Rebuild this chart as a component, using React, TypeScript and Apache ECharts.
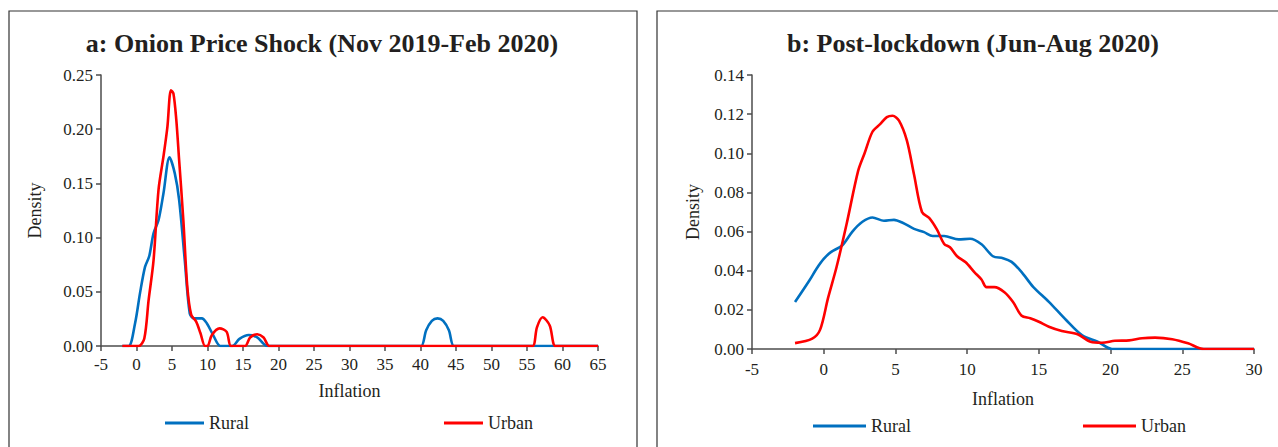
import React, { useEffect, useRef } from "react";
import * as echarts from "echarts";

// ---- Data ----
const titleA = "a: Onion Price Shock (Nov 2019-Feb 2020)";
const titleB = "b: Post-lockdown (Jun-Aug 2020)";
const seriesNames = ["Rural", "Urban"];
const xAxisA = { min: -5, max: 65, interval: 5 };
const yAxisA = { min: 0, max: 0.25, interval: 0.05 };
const xAxisB = { min: -5, max: 30, interval: 5 };
const yAxisB = { min: 0, max: 0.14, interval: 0.02 };

const ruralA: [number, number][] = [
  [-2, 0], [-1.1, 0], [-0.2, 0.021], [0.5, 0.049], [1.2, 0.073], [1.8, 0.083],
  [2.4, 0.104], [3.1, 0.116], [3.8, 0.141], [4.65, 0.174], [5.4, 0.159],
  [6.0, 0.135], [6.8, 0.079], [7.5, 0.03], [8.1, 0.0255], [9.2, 0.0255],
  [9.9, 0.021], [10.8, 0.01], [11.8, 0], [12.5, 0], [13.5, 0], [14.5, 0.0065],
  [15.8, 0.0101], [17.0, 0.008], [18.4, 0], [19.5, 0], [39, 0], [40.1, 0],
  [40.8, 0.0145], [41.6, 0.0232], [42.4, 0.0255], [43.2, 0.0232], [44.0, 0.0145],
  [44.7, 0], [46, 0], [65, 0],
];

const urbanA: [number, number][] = [
  [-2, 0], [-1, 0], [0.3, 0], [1.1, 0.007], [1.7, 0.042], [2.4, 0.079],
  [3.1, 0.144], [3.8, 0.175], [4.35, 0.202], [4.85, 0.236], [5.2, 0.233],
  [5.6, 0.209], [6.0, 0.172], [6.6, 0.116], [7.15, 0.055], [7.7, 0.029],
  [8.4, 0.0225], [9.0, 0.012], [9.65, 0], [10.0, 0], [10.6, 0.01],
  [11.7, 0.0163], [12.7, 0.013], [13.3, 0], [14.3, 0], [15.3, 0], [16.0, 0.0078],
  [17.0, 0.0108], [17.9, 0.0078], [18.7, 0], [20, 0], [54.5, 0], [55.8, 0],
  [56.4, 0.0172], [57.2, 0.0265], [58.2, 0.019], [59.0, 0], [60.5, 0], [65, 0],
];

const ruralB: [number, number][] = [
  [-2, 0.024], [-1, 0.035], [-0.5, 0.041], [0, 0.046], [0.5, 0.0495],
  [1.3, 0.053], [2, 0.06], [2.7, 0.065], [3.4, 0.0672], [4.2, 0.0655],
  [4.9, 0.066], [5.5, 0.0645], [6.3, 0.0614], [7, 0.0597], [7.6, 0.0577],
  [8.4, 0.0577], [9.4, 0.056], [10.2, 0.0563], [11, 0.0535], [11.8, 0.0474],
  [12.5, 0.0464], [13.1, 0.0445], [13.8, 0.0393], [14.6, 0.0318], [15.7, 0.0241],
  [16.9, 0.0148], [18, 0.0071], [19.1, 0.0037], [20.1, 0], [21.5, 0], [30, 0],
];

const urbanB: [number, number][] = [
  [-2, 0.003], [-0.8, 0.0053], [-0.25, 0.0099], [0.3, 0.026], [0.9, 0.042],
  [1.6, 0.064], [2.4, 0.091], [2.85, 0.1], [3.4, 0.111], [3.95, 0.115],
  [4.4, 0.1185], [4.8, 0.1192], [5.25, 0.1167], [5.8, 0.1065], [6.3, 0.089],
  [6.85, 0.07], [7.35, 0.067], [7.9, 0.061], [8.4, 0.0537], [8.8, 0.052],
  [9.3, 0.0474], [9.9, 0.0443], [10.5, 0.0393], [11.0, 0.0355], [11.35, 0.0316],
  [11.9, 0.0316], [12.6, 0.029], [13.2, 0.024], [13.8, 0.017], [14.4, 0.0157],
  [15, 0.0139], [15.7, 0.0114], [16.6, 0.0092], [17.7, 0.0075], [18.6, 0.0037],
  [19.4, 0.0032], [20.3, 0.0042], [21.3, 0.0044], [22.2, 0.0055], [23.1, 0.0058],
  [24.3, 0.005], [25.4, 0.0029], [26.5, 0], [28, 0], [30, 0],
];

// ---- Styling ----
const FONT = '"Liberation Serif", "Times New Roman", serif';
const TEXT = "#231f20";
const AXIS = "#4d4d4d";
const BLUE = "#0070C0";
const RED = "#FF0000";

function xAxisCfg(gridIndex: number, r: { min: number; max: number; interval: number }, nameGap: number, margin: number) {
  return {
    type: "value",
    gridIndex,
    min: r.min,
    max: r.max,
    interval: r.interval,
    name: "Inflation",
    nameLocation: "middle",
    nameGap,
    nameTextStyle: { fontFamily: FONT, fontSize: 18, color: TEXT },
    axisLine: { show: true, onZero: false, lineStyle: { color: AXIS, width: 1.5 } },
    axisTick: { show: true, length: 5, lineStyle: { color: AXIS, width: 1.5 } },
    axisLabel: { fontFamily: FONT, fontSize: 17, color: TEXT, margin },
    splitLine: { show: false },
  };
}

function yAxisCfg(gridIndex: number, r: { min: number; max: number; interval: number }, nameGap: number, margin: number) {
  return {
    type: "value",
    gridIndex,
    min: r.min,
    max: r.max,
    interval: r.interval,
    name: "Density",
    nameLocation: "middle",
    nameGap,
    nameRotate: 90,
    nameTextStyle: { fontFamily: FONT, fontSize: 18, color: TEXT },
    axisLine: { show: true, onZero: false, lineStyle: { color: AXIS, width: 1.5 } },
    axisTick: { show: true, length: 5, lineStyle: { color: AXIS, width: 1.5 } },
    axisLabel: {
      fontFamily: FONT,
      fontSize: 17,
      color: TEXT,
      margin,
      formatter: (v: number) => v.toFixed(2),
    },
    splitLine: { show: false },
  };
}

function lineSeries(name: string, data: [number, number][], color: string, idx: number) {
  return {
    type: "line",
    name,
    data,
    xAxisIndex: idx,
    yAxisIndex: idx,
    smooth: 0.3,
    symbol: "none",
    lineStyle: { color, width: 2.6 },
    itemStyle: { color },
    z: name === "Urban" ? 3 : 2,
  };
}

function legendCfg(left: number, top: number, itemWidth: number, itemGap: number) {
  return {
    left,
    top,
    orient: "horizontal",
    data: seriesNames,
    icon: "rect",
    itemWidth,
    itemHeight: 3,
    itemGap,
    selectedMode: false,
    textStyle: { fontFamily: FONT, fontSize: 18, color: TEXT, padding: [0, 0, 0, 0] },
  };
}

export default function App() {
  const ref = useRef<HTMLDivElement>(null);

  useEffect(() => {
    document.body.style.margin = "0";
    if (!ref.current) return;
    const chart = echarts.init(ref.current, null, { renderer: "svg" });
    chart.setOption({
      animation: false,
      backgroundColor: "#ffffff",
      grid: [
        { left: 101, right: 1278 - 598, top: 75, bottom: 447 - 346, containLabel: false },
        { left: 752, right: 1278 - 1254, top: 75, bottom: 447 - 349, containLabel: false },
      ],
      xAxis: [xAxisCfg(0, xAxisA, 36, 10), xAxisCfg(1, xAxisB, 41, 12)],
      yAxis: [yAxisCfg(0, yAxisA, 57, 8), yAxisCfg(1, yAxisB, 50, 8)],
      legend: [legendCfg(160, 409, 39, 195), legendCfg(808, 412, 53, 172)],
      graphic: [
        {
          type: "rect",
          shape: { x: 9, y: 11, width: 628, height: 460 },
          style: { fill: "none", stroke: "#333", lineWidth: 1.2 },
          silent: true,
        },
        {
          type: "rect",
          shape: { x: 657, y: 11, width: 700, height: 460 },
          style: { fill: "none", stroke: "#333", lineWidth: 1.2 },
          silent: true,
        },
        {
          type: "text",
          x: 322,
          y: 43,
          style: {
            text: titleA,
            fontFamily: FONT,
            fontWeight: "bold",
            fontSize: 26,
            fill: TEXT,
            textAlign: "center",
            textVerticalAlign: "middle",
          },
        },
        {
          type: "text",
          x: 973,
          y: 43,
          style: {
            text: titleB,
            fontFamily: FONT,
            fontWeight: "bold",
            fontSize: 26,
            fill: TEXT,
            textAlign: "center",
            textVerticalAlign: "middle",
          },
        },
      ],
      series: [
        lineSeries("Rural", ruralA, BLUE, 0),
        lineSeries("Urban", urbanA, RED, 0),
        lineSeries("Rural", ruralB, BLUE, 1),
        lineSeries("Urban", urbanB, RED, 1),
      ],
    });
    return () => chart.dispose();
  }, []);

  return (
    <div
      ref={ref}
      style={{ position: "absolute", left: 0, top: 0, width: 1278, height: 447 }}
    />
  );
}
